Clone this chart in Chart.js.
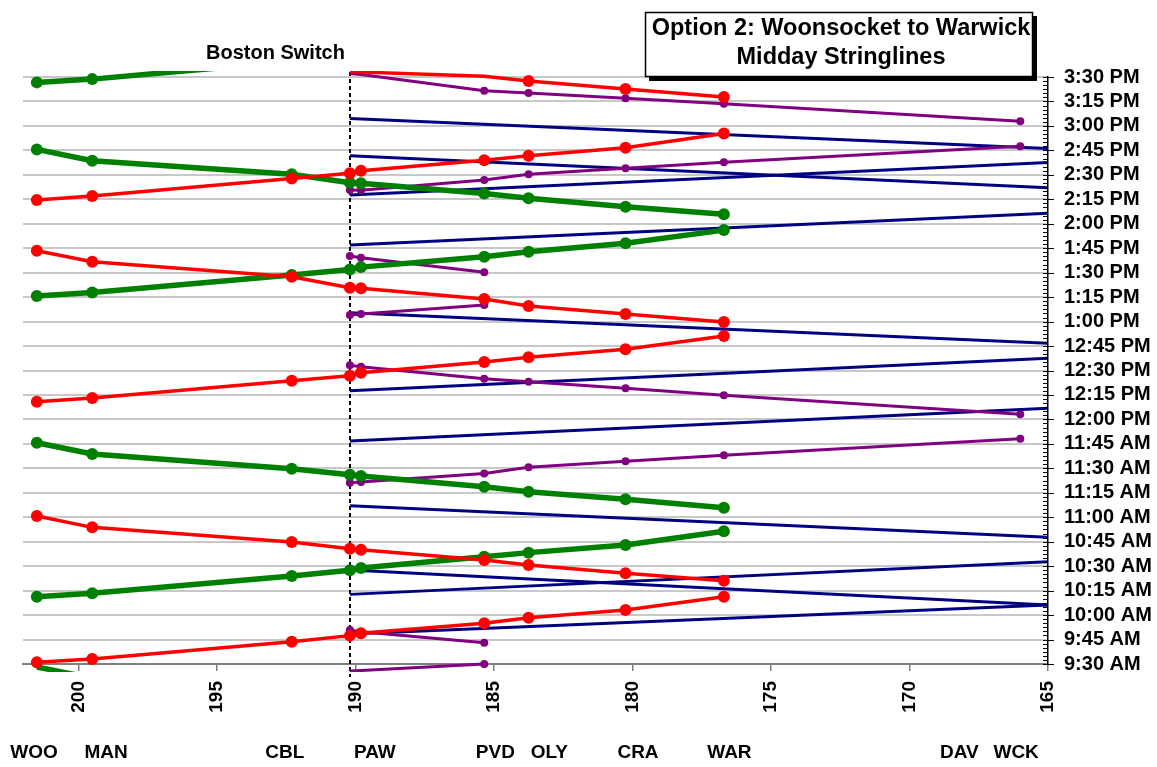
<!DOCTYPE html>
<html>
<head>
<meta charset="utf-8">
<title>Option 2: Woonsocket to Warwick – Midday Stringlines</title>
<script src="https://cdn.jsdelivr.net/npm/chart.js@4.4.1/dist/chart.umd.min.js"></script>
<style>
  html, body { margin: 0; padding: 0; background: #ffffff; }
  #wrap { width: 1157px; height: 767px; position: relative; }
</style>
</head>
<body>
<div id="wrap"><canvas id="chart"></canvas></div>
<script>
// ---- Mileposts (miles from Boston) -------------------------------------
// Commuter-rail pattern: WOO, MAN, CBL, Boston Switch, PAW, PVD, OLY, CRA, WAR
const corridorMileposts = [201.5, 199.5, 192.3, 190.2, 189.8, 185.35, 183.75, 180.25, 176.7];
// Shuttle pattern: Boston Switch, PAW, PVD, OLY, CRA, WAR, DAV
const shuttleMileposts = [190.2, 189.8, 185.35, 183.75, 180.25, 176.7, 166.0];
// Through trains: Boston Switch, WCK
const throughMileposts = [190.2, 165];
const switchMilepost = 190.2;

// ---- Times in minutes after midnight ------------------------------------
const green1 = [568.2, 561.3, null, null, null, null, null, null, null];
const green2 = [611.3, 613.4, 624.0, 627.5, 628.9, 635.8, 638.3, 643.0, 651.4];
const green3 = [705.7, 698.8, 689.8, 686.1, 685.3, 678.7, 675.7, 671.0, 665.8];
const green4 = [795.7, 797.9, 808.5, 812.0, 813.4, 819.8, 822.8, 828.0, 836.1];
const green5 = [885.6, 878.6, 870.3, 865.1, 864.8, 858.6, 855.6, 850.4, 845.8];
const green6 = [926.7, 928.7, 939.5, 943.0, 944.4, null, null, null, null];

const red1 = [571.0, 573.1, 583.7, 587.4, 588.8, 595.0, 598.4, 603.1, 611.3];
const red2 = [660.8, 653.8, 644.8, 640.7, 640.1, 633.8, 630.7, 625.6, 621.1];
const red3 = [730.8, 733.1, 743.7, 746.8, 748.6, 755.2, 758.1, 763.0, 771.1];
const red4 = [823.4, 816.7, 807.5, 800.8, 800.4, 793.8, 789.5, 784.6, 779.7];
const red5 = [854.5, 857.0, 867.8, 870.9, 872.5, 879.0, 881.7, 886.6, 895.4];
const red6 = [null, null, null, 933.3, 933.0, 930.5, 927.5, 922.6, 917.7];

const purple1 = [565.7, 566.0, 570.0, null, null, null, null];
const purple2 = [590.8, 589.8, 583.1, null, null, null, null];
const purple3 = [681.2, 681.6, 686.9, 690.6, 694.3, 698.0, 708.2];
const purple4 = [753.2, 752.3, 745.0, 743.1, 739.1, 734.8, 723.1];
const purple5 = [784.1, 784.7, 790.2, null, null, null, null];
const purple6 = [820.2, 819.1, 810.2, null, null, null, null];
const purple7 = [860.7, 860.5, 866.8, 870.3, 874.0, 877.7, 887.6];
const purple8 = [932.2, 931.6, 921.6, 920.2, 916.9, 913.6, 902.8];

const blue1  = [588.4, 606.2];
const blue2  = [612.7, 632.7];
const blue3  = [627.6, 606.2];
const blue4  = [667.1, 647.7];
const blue5  = [706.7, 726.8];
const blue6  = [737.6, 757.5];
const blue7  = [785.4, 766.7];
const blue8  = [826.9, 846.4];
const blue9  = [857.6, 877.6];
const blue10 = [881.7, 862.1];
const blue11 = [904.6, 886.2];

// ---- Axis ticks and station captions -----------------------------------
const timeMin = 570, timeMax = 930, timeStep = 15, minorStep = 2.5;
const mileTicks = [200, 195, 190, 185, 180, 175, 170, 165];
const stationCaptions = ['WOO', 'MAN', 'CBL', 'PAW', 'PVD', 'OLY', 'CRA', 'WAR', 'DAV', 'WCK'];
const stationCaptionMileposts = [201.6, 199.0, 192.55, 189.3, 184.95, 183.0, 179.8, 176.5, 168.2, 166.15];

const FONT = '"Liberation Sans", Arial, Helvetica, sans-serif';

function clock(m) {
  const h = Math.floor(m / 60);
  const mm = Math.round(m - h * 60);
  const ap = h >= 12 ? 'PM' : 'AM';
  let h12 = h % 12; if (h12 === 0) h12 = 12;
  return h12 + ':' + String(mm).padStart(2, '0') + ' ' + ap;
}

function pairs(mps, times) {
  const out = [];
  times.forEach((t, i) => { if (t !== null) out.push({ x: mps[i], y: t }); });
  return out;
}

const styles = {
  green:  { color: '#008000', width: 5.5, radius: 6,   order: 1 },
  red:    { color: '#FF0000', width: 3.5, radius: 6,   order: 0 },
  purple: { color: '#800080', width: 3,   radius: 4,   order: 2 },
  blue:   { color: '#000080', width: 3,   radius: 0,   order: 3 }
};

function makeSet(label, mps, times, kind) {
  const s = styles[kind];
  return {
    label,
    data: pairs(mps, times),
    borderColor: s.color,
    backgroundColor: s.color,
    borderWidth: s.width,
    pointBackgroundColor: s.color,
    pointBorderColor: s.color,
    pointBorderWidth: 0,
    pointRadius: (ctx) => {
      const v = ctx.raw ? ctx.raw.y : null;
      return (v !== null && v >= timeMin && v <= timeMax) ? s.radius : 0;
    },
    pointHoverRadius: 0,
    tension: 0,
    order: s.order,
    clip: { left: 0, top: 6, right: 0, bottom: 8 }
  };
}

const datasets = [
  makeSet('Green 1', corridorMileposts, green1, 'green'),
  makeSet('Green 2', corridorMileposts, green2, 'green'),
  makeSet('Green 3', corridorMileposts, green3, 'green'),
  makeSet('Green 4', corridorMileposts, green4, 'green'),
  makeSet('Green 5', corridorMileposts, green5, 'green'),
  makeSet('Green 6', corridorMileposts, green6, 'green'),
  makeSet('Red 1', corridorMileposts, red1, 'red'),
  makeSet('Red 2', corridorMileposts, red2, 'red'),
  makeSet('Red 3', corridorMileposts, red3, 'red'),
  makeSet('Red 4', corridorMileposts, red4, 'red'),
  makeSet('Red 5', corridorMileposts, red5, 'red'),
  makeSet('Red 6', corridorMileposts, red6, 'red'),
  makeSet('Purple 1', shuttleMileposts, purple1, 'purple'),
  makeSet('Purple 2', shuttleMileposts, purple2, 'purple'),
  makeSet('Purple 3', shuttleMileposts, purple3, 'purple'),
  makeSet('Purple 4', shuttleMileposts, purple4, 'purple'),
  makeSet('Purple 5', shuttleMileposts, purple5, 'purple'),
  makeSet('Purple 6', shuttleMileposts, purple6, 'purple'),
  makeSet('Purple 7', shuttleMileposts, purple7, 'purple'),
  makeSet('Purple 8', shuttleMileposts, purple8, 'purple'),
  makeSet('Blue 1', throughMileposts, blue1, 'blue'),
  makeSet('Blue 2', throughMileposts, blue2, 'blue'),
  makeSet('Blue 3', throughMileposts, blue3, 'blue'),
  makeSet('Blue 4', throughMileposts, blue4, 'blue'),
  makeSet('Blue 5', throughMileposts, blue5, 'blue'),
  makeSet('Blue 6', throughMileposts, blue6, 'blue'),
  makeSet('Blue 7', throughMileposts, blue7, 'blue'),
  makeSet('Blue 8', throughMileposts, blue8, 'blue'),
  makeSet('Blue 9', throughMileposts, blue9, 'blue'),
  makeSet('Blue 10', throughMileposts, blue10, 'blue'),
  makeSet('Blue 11', throughMileposts, blue11, 'blue')
];

// Switch marker, time-axis tick marks, station captions and title box
const decorations = {
  id: 'decorations',
  beforeDatasetsDraw(chart) {
    const { ctx, chartArea, scales: { x } } = chart;
    const px = Math.round(x.getPixelForValue(switchMilepost));
    ctx.save();
    ctx.strokeStyle = '#000';
    ctx.lineWidth = 2;
    ctx.setLineDash([4, 3]);
    ctx.beginPath();
    ctx.moveTo(px, chartArea.top - 5);
    ctx.lineTo(px, chartArea.bottom + 13);
    ctx.stroke();
    ctx.restore();
  },
  afterDraw(chart) {
    const { ctx, chartArea, scales: { x, y } } = chart;
    ctx.save();

    // tick marks on the time axis
    ctx.strokeStyle = '#000';
    ctx.lineWidth = 1;
    const ax = chartArea.right;
    const steps = Math.round((timeMax - timeMin) / minorStep);
    const perMajor = Math.round(timeStep / minorStep);
    for (let i = 0; i <= steps; i++) {
      const py = Math.round(y.getPixelForValue(timeMin + i * minorStep)) + 0.5;
      const major = i % perMajor === 0;
      ctx.beginPath();
      ctx.moveTo(ax - 5, py);
      ctx.lineTo(major ? ax + 6 : ax, py);
      ctx.stroke();
    }

    // "Boston Switch" label
    const sx = x.getPixelForValue(switchMilepost);
    ctx.fillStyle = '#000';
    ctx.font = 'bold 20px ' + FONT;
    ctx.textAlign = 'right';
    ctx.textBaseline = 'middle';
    ctx.fillText('Boston Switch', sx - 5, 53);

    // station captions under the milepost axis
    ctx.font = 'bold 19px ' + FONT;
    ctx.textAlign = 'center';
    ctx.textBaseline = 'alphabetic';
    stationCaptions.forEach((name, i) => {
      ctx.fillText(name, x.getPixelForValue(stationCaptionMileposts[i]), 758);
    });

    // title box with drop shadow
    const bx = 645, by = 12, bw = 388, bh = 65;
    ctx.fillStyle = '#000';
    ctx.fillRect(bx + 4, by + 4, bw, bh);
    ctx.fillStyle = '#fff';
    ctx.fillRect(bx, by, bw, bh);
    ctx.strokeStyle = '#000';
    ctx.lineWidth = 1.5;
    ctx.strokeRect(bx + 0.5, by + 0.5, bw - 1, bh - 1);
    ctx.fillStyle = '#000';
    ctx.font = 'bold 23.5px ' + FONT;
    ctx.textAlign = 'center';
    ctx.textBaseline = 'middle';
    ctx.fillText('Option 2: Woonsocket to Warwick', bx + bw / 2 + 2, 29);
    ctx.fillText('Midday Stringlines', bx + bw / 2 + 2, 58);

    ctx.restore();
  }
};

new Chart(document.getElementById('chart'), {
  type: 'line',
  data: { datasets },
  options: {
    responsive: true,
    maintainAspectRatio: false,
    animation: false,
    events: [],
    layout: { padding: { left: 23, top: 77, right: 0, bottom: 0 } },
    plugins: {
      legend: { display: false },
      tooltip: { enabled: false },
      title: { display: false }
    },
    scales: {
      x: {
        type: 'linear',
        position: 'bottom',
        reverse: true,
        min: 165,
        max: 202,
        afterBuildTicks: (scale) => { scale.ticks = mileTicks.map(v => ({ value: v })); },
        afterFit: (scale) => { scale.height = 103; },
        grid: { drawOnChartArea: false, drawTicks: true, tickLength: 7, color: '#808080', lineWidth: 1.5 },
        border: { display: true, color: '#808080', width: 2 },
        ticks: {
          autoSkip: false,
          minRotation: 90,
          maxRotation: 90,
          padding: 10,
          color: '#000',
          font: { family: FONT, size: 19, weight: 'bold' },
          callback: (v) => String(v)
        }
      },
      y: {
        type: 'linear',
        position: 'right',
        min: timeMin,
        max: timeMax,
        afterFit: (scale) => { scale.width = 109; },
        grid: { drawTicks: false, color: '#c8c8c8', lineWidth: 2 },
        border: { display: true, color: '#000', width: 1.5 },
        ticks: {
          stepSize: timeStep,
          autoSkip: false,
          padding: 16,
          color: '#000',
          font: { family: FONT, size: 20, weight: 'bold' },
          callback: (v) => clock(v)
        }
      }
    }
  },
  plugins: [decorations]
});
</script>
</body>
</html>
